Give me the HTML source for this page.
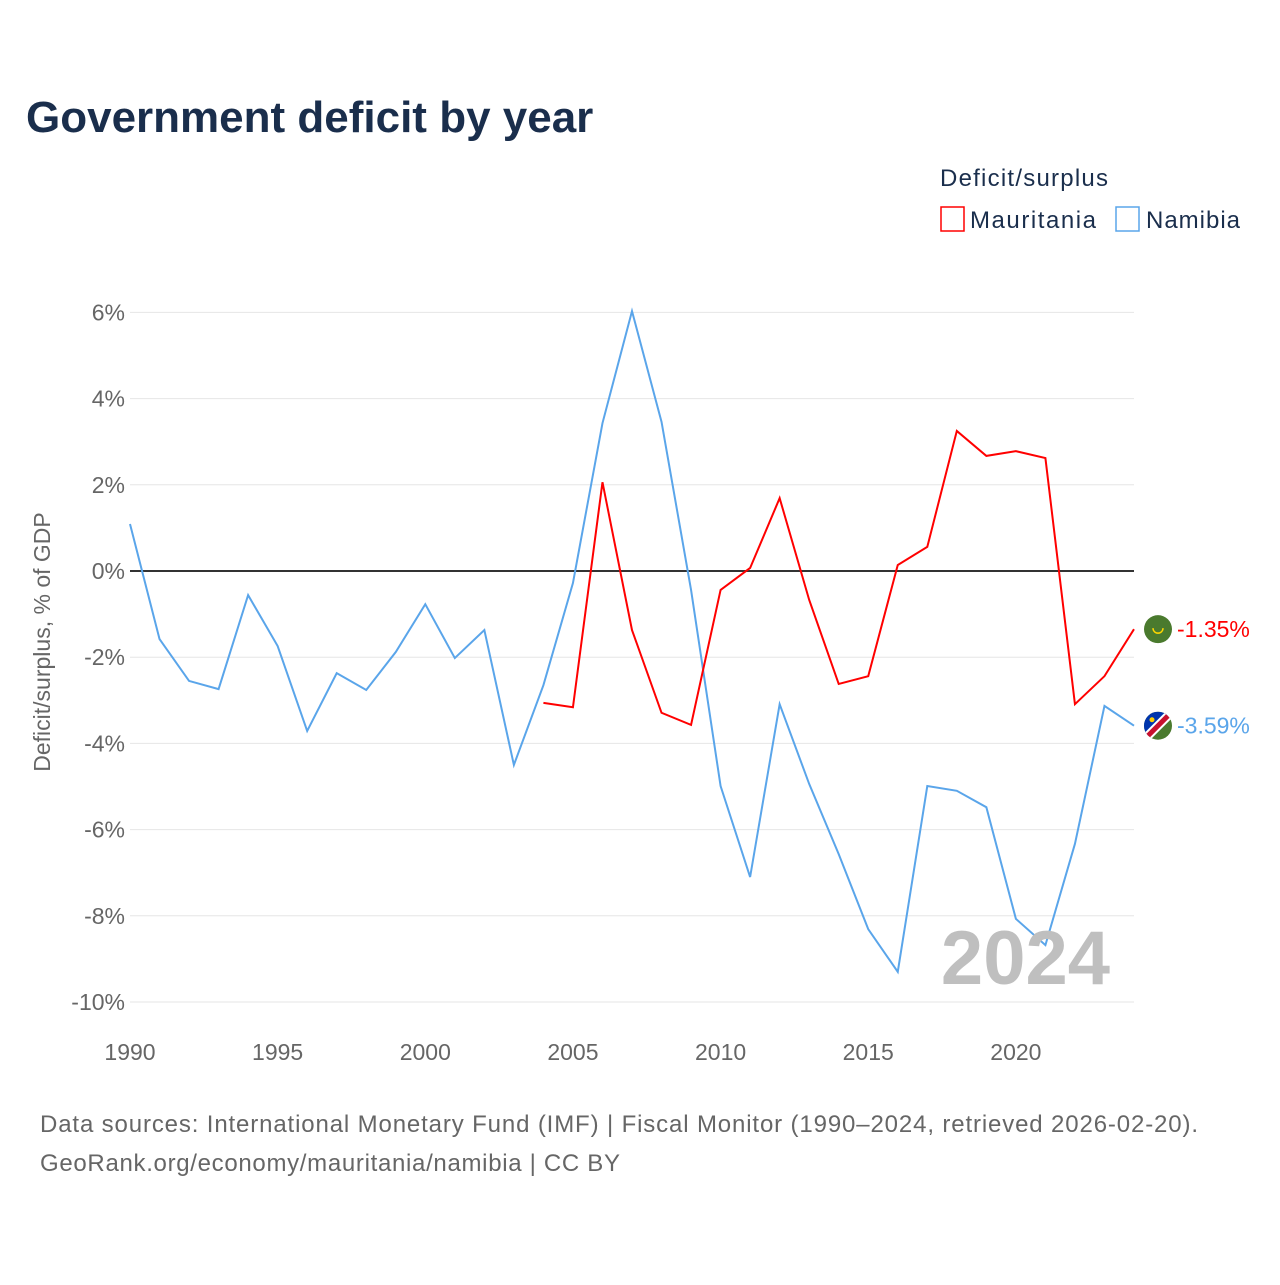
<!DOCTYPE html>
<html><head><meta charset="utf-8"><style>
body{margin:0;background:#fff;font-family:"Liberation Sans",sans-serif}
</style></head><body>
<svg id="chart" width="1280" height="1280" xmlns="http://www.w3.org/2000/svg">
<defs><clipPath id="flagclip"><circle cx="1158" cy="725.7" r="14"/></clipPath></defs>
<rect width="1280" height="1280" fill="#fff"/>
<text x="26" y="132" font-size="44" font-weight="bold" fill="#1a2e4c">Government deficit by year</text>
<text x="940" y="186" font-size="24" fill="#1a2e4c" textLength="168">Deficit/surplus</text>
<g><rect x="941" y="207" width="23" height="24" fill="none" stroke="#f00" stroke-width="1.5"/><text x="970" y="228" font-size="24" fill="#1a2e4c" textLength="126">Mauritania</text></g>
<g><rect x="1116" y="207" width="23" height="24" fill="none" stroke="#5aa5ea" stroke-width="1.5"/><text x="1146" y="228" font-size="24" fill="#1a2e4c" textLength="94">Namibia</text></g>
<g id="grid"></g><g id="series"></g>
<text x="1110" y="984" font-size="76" font-weight="bold" fill="#bfbfbf" text-anchor="end">2024</text>
<text transform="translate(50,642) rotate(-90)" font-size="23" fill="#666" text-anchor="middle">Deficit/surplus, % of GDP</text>
<text x="40" y="1132" font-size="24" fill="#666" textLength="1158">Data sources: International Monetary Fund (IMF) | Fiscal Monitor (1990–2024, retrieved 2026-02-20).</text>
<text x="40" y="1171" font-size="24" fill="#666" textLength="580">GeoRank.org/economy/mauritania/namibia | CC BY</text>
</svg>
<script>
const years=[];for(let y=1990;y<=2024;y++)years.push(y);
const namibia=[1.09,-1.58,-2.55,-2.74,-0.56,-1.74,-3.71,-2.37,-2.76,-1.88,-0.77,-2.02,-1.37,-4.5,-2.65,-0.28,3.43,6.03,3.46,-0.44,-4.99,-7.1,-3.09,-4.94,-6.57,-8.31,-9.3,-4.99,-5.1,-5.48,-8.07,-8.68,-6.33,-3.13,-3.59];
const mauritaniaYears=[2004,2005,2006,2007,2008,2009,2010,2011,2012,2013,2014,2015,2016,2017,2018,2019,2020,2021,2022,2023,2024];
const mauritania=[-3.06,-3.16,2.06,-1.37,-3.29,-3.57,-0.44,0.07,1.69,-0.67,-2.62,-2.44,0.14,0.56,3.25,2.67,2.78,2.62,-3.09,-2.44,-1.35];
const yTicks=[6,4,2,0,-2,-4,-6,-8,-10];
const xTicks=[1990,1995,2000,2005,2010,2015,2020];
const NS="http://www.w3.org/2000/svg";
const X=y=>130+(y-1990)*(1134-130)/34;
const Y=v=>571-v*43.1;
const grid=document.getElementById('grid'),ser=document.getElementById('series');
function mk(t,a,p){const e=document.createElementNS(NS,t);for(const k in a)e.setAttribute(k,a[k]);p.appendChild(e);return e;}
yTicks.forEach(v=>{
 const l=mk('line',{x1:130,x2:1134,y1:Y(v),y2:Y(v),stroke:v===0?'#333':'#e6e6e6','stroke-width':v===0?2:1},grid);
 
 
 const t=mk('text',{x:125,y:Y(v)+8,'font-size':23,fill:'#666','text-anchor':'end'},grid);
 t.textContent=v+'%';
 
 
});
xTicks.forEach(y=>{
 const t=mk('text',{x:X(y),y:1060,'font-size':23,fill:'#666','text-anchor':'middle'},grid);
 t.textContent=y;
 
 
});
const pn=mk('polyline',{points:namibia.map((v,i)=>X(years[i])+','+Y(v)).join(' '),fill:'none',stroke:'#5aa5ea','stroke-width':2},ser);


const pm=mk('polyline',{points:mauritania.map((v,i)=>X(mauritaniaYears[i])+','+Y(v)).join(' '),fill:'none',stroke:'#f00','stroke-width':2},ser);


function endLabel(v,col,name,fl){
 const g=mk('g',{},ser);
 
 
 const cx=1158,cy=Y(v);
 mk('circle',{cx:cx,cy:cy,r:14,fill:fl},g);
 if(name.indexOf('namibia')>=0){
  document.querySelector('#flagclip circle').setAttribute('cy',cy);
  const f=mk('g',{'clip-path':'url(#flagclip)'},g);
  mk('path',{d:`M${cx-14},${cy+14} L${cx+14},${cy-14} L${cx-14},${cy-14}Z`,fill:'#0035ad'},f);
  mk('line',{x1:cx-14,y1:cy+14,x2:cx+14,y2:cy-14,stroke:'#fff','stroke-width':9},f);
  mk('line',{x1:cx-14,y1:cy+14,x2:cx+14,y2:cy-14,stroke:'#c8102e','stroke-width':5},f);
  mk('circle',{cx:cx-6,cy:cy-6,r:2.5,fill:'#ffce00'},f);
 } else {
  mk('path',{d:`M${cx-5},${cy-1} a5,5 0 0,0 10,0`,fill:'none',stroke:'#ffd700','stroke-width':1.5},g);
 }
 const t=mk('text',{x:1177,y:cy+8,'font-size':23,fill:col},g);t.textContent=v.toFixed(2)+'%';
}
endLabel(mauritania[mauritania.length-1],'#f00','mauritania-end-label','#4a7a2e');
endLabel(namibia[namibia.length-1],'#5aa5ea','namibia-end-label','#4a7a2e');
</script>
</body></html>
